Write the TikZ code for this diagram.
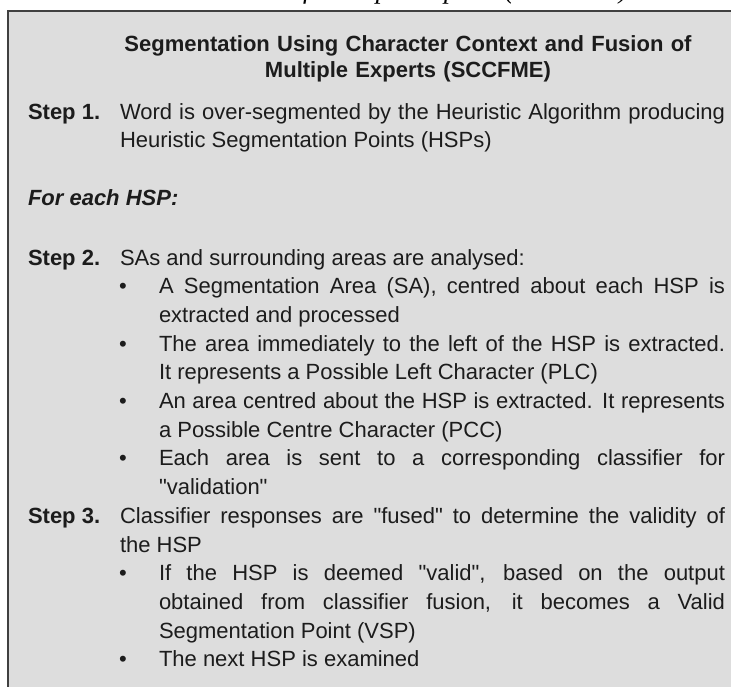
\documentclass[tikz,border=0pt]{standalone}
\usepackage{fontspec}
\setmainfont{Liberation Sans}
\newfontfamily\capfont{Liberation Serif}
\definecolor{boxgray}{RGB}{221,221,221}
\definecolor{ink}{RGB}{28,28,28}
\hyphenpenalty=10000
\exhyphenpenalty=10000

\begin{document}
\begin{tikzpicture}[x=1pt,y=-1pt,
  txt/.style={anchor=base west, inner sep=0pt, outer sep=0pt, text=ink, font=\fontsize{22}{28.7}\selectfont},
  steplbl/.style={txt, font=\fontsize{22}{28.7}\selectfont\bfseries},
  para/.style={txt, text width=605pt, align=justify},
  item/.style={txt, text width=566pt, align=justify},
  dot/.style={txt, anchor=base}]
\useasboundingbox (0,0) rectangle (731,686);
\clip (0,0) rectangle (731,686);
% caption above the box, cut by the top edge
\node[anchor=base east, inner sep=0pt, font=\capfont\itshape\fontsize{27}{30}\selectfont] (cap) at (628,-2) {Fusion of Multiple Experts (SCCFME)};
\draw[draw=black!75, line width=1.5pt, fill=boxgray] (8,11) rectangle (760,720);
\node[txt, anchor=base, text width=700pt, align=center, font=\fontsize{22}{26}\selectfont\bfseries] (title) at (408,51) {Segmentation Using Character Context and Fusion of\\Multiple Experts (SCCFME)};
% step 1
\node[steplbl] (s1lbl) at (28,119) {Step 1.};
\node[para] (s1txt) at (120,119) {Word is over-segmented by the Heuristic Algorithm producing\linebreak Heuristic Segmentation Points (HSPs)};
\node[txt, font=\fontsize{22}{28.7}\selectfont\bfseries\itshape] (each) at (28,205.5) {For each HSP:};
% step 2
\node[steplbl] (s2lbl) at (28,265) {Step 2.};
\node[para] (s2txt) at (120,265) {SAs and surrounding areas are analysed:};
\node[dot] (d2a) at (123,293.7) {\textbullet};
\node[item] (s2a) at (159,293.7) {A Segmentation Area (SA), centred about each HSP is\linebreak extracted and processed};
\node[dot] (d2b) at (123,351.1) {\textbullet};
\node[item] (s2b) at (159,351.1) {The area immediately to the left of the HSP is extracted.\linebreak It represents a Possible Left Character (PLC)};
\node[dot] (d2c) at (123,408.5) {\textbullet};
\node[item] (s2c) at (159,408.5) {An area centred about the HSP is extracted. It represents\linebreak a Possible Centre Character (PCC)};
\node[dot] (d2d) at (123,465.9) {\textbullet};
\node[item] (s2d) at (159,465.9) {Each area is sent to a corresponding classifier for\linebreak \textquotedbl validation\textquotedbl};
% step 3
\node[steplbl] (s3lbl) at (28,523.3) {Step 3.};
\node[para] (s3txt) at (120,523.3) {Classifier responses are \textquotedbl fused\textquotedbl\ to determine the validity of\linebreak the HSP};
\node[dot] (d3a) at (123,580.7) {\textbullet};
\node[item] (s3a) at (159,580.7) {If the HSP is deemed \textquotedbl valid\textquotedbl, based on the output\linebreak obtained from classifier fusion, it becomes a Valid\linebreak Segmentation Point (VSP)};
\node[dot] (d3b) at (123,666.8) {\textbullet};
\node[item] (s3b) at (159,666.8) {The next HSP is examined};
\end{tikzpicture}
\end{document}
